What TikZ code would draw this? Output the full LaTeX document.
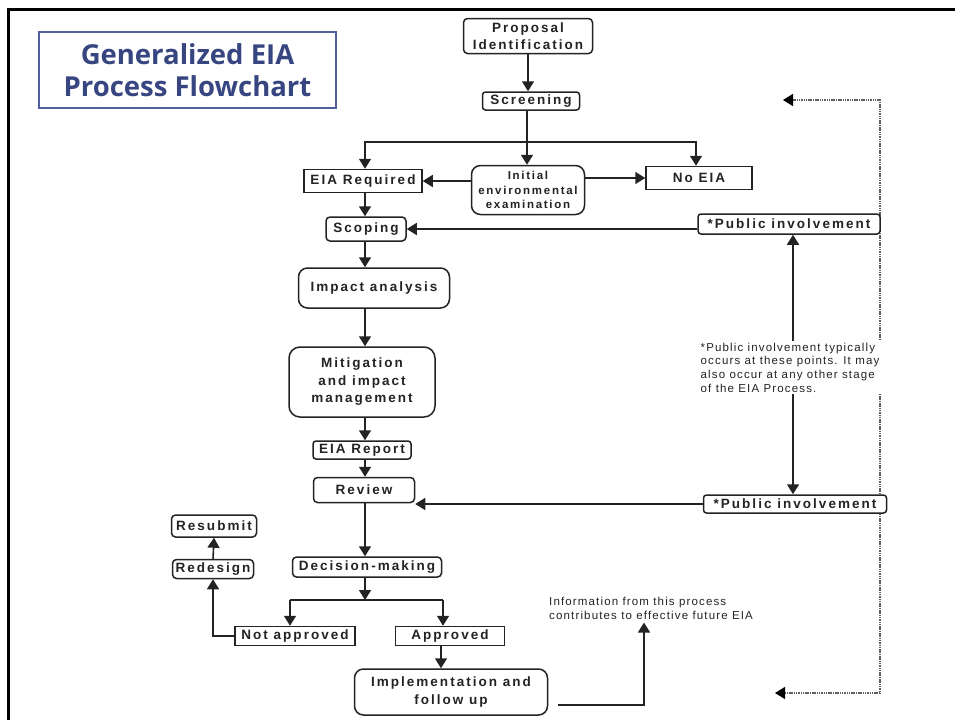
\documentclass[tikz,border=0pt]{standalone}
\usepackage{fontspec}
\setmainfont{Liberation Sans}
\newfontfamily\bxfont[LetterSpace=15]{Liberation Sans}
\newfontfamily\ntfont[LetterSpace=10]{Liberation Sans}
\newfontfamily\ttlfont{Open Sans}
\usetikzlibrary{arrows.meta}
\definecolor{ttlblue}{RGB}{55,70,128}
\definecolor{ttlframe}{RGB}{80,96,156}
\definecolor{ink}{RGB}{35,35,35}
\definecolor{dotgray}{RGB}{95,95,95}
\begin{document}
\begin{tikzpicture}[x=1pt,y=-1pt,
 box/.style={draw=ink, line width=1.5pt, fill=white, inner sep=0pt, align=center, text=ink, font=\bxfont\bfseries\fontsize{13.5}{17.5}\selectfont},
 rbox/.style={box, rounded corners=4pt},
 rrbox/.style={box, rounded corners=9pt},
 arr/.style={draw=ink, line width=1.6pt, -{Triangle[width=12pt,length=10pt]}},
 ln/.style={draw=ink, line width=1.6pt},
 dotln/.style={draw=dotgray, line width=1.6pt, dash pattern=on 1.5pt off 0.8pt},
 tiparr/.style={draw=black, fill=black, line width=1.2pt, -{Triangle[width=12pt,length=10pt]}},
 smalltext/.style={inner sep=0pt, align=left, text=ink, font=\ntfont\fontsize{11.5}{13.7}\selectfont}]
\useasboundingbox (0,0) rectangle (955,720);
% frame
\draw[line width=3pt, black] (8.5,720) -- (8.5,9.5) -- (955,9.5);
% dotted feedback path (drawn first, boxes cover it)
\coordinate (dt) at (880,100);
\coordinate (db) at (880,693);
\coordinate (dtm) at (792,100);
\coordinate (dbm) at (784,693);
\coordinate (dtl) at (783,100);
\coordinate (dbl) at (775,693);
\draw[dotln] (dtm) -- (dt) -- (db) -- (dbm);
\draw[tiparr] (dtm) -- (dtl);
\draw[tiparr] (dbm) -- (dbl);
% title
\node[draw=ttlframe, line width=1.3pt, minimum width=297pt, minimum height=76pt, inner sep=0pt, align=center, text=ttlblue, font=\ttlfont\bfseries\fontsize{27.5}{32}\selectfont] (title) at (187.5,70) {Generalized EIA\\Process Flowchart};
% nodes
\node[rbox, minimum width=129pt, minimum height=35pt] (prop) at (528,36) {Proposal\\Identification};
\node[rbox, rounded corners=3pt, minimum width=97pt, minimum height=18pt] (scr) at (531,101) {Screening};
\node[box, minimum width=118pt, minimum height=23pt] (eia) at (363,181) {EIA Required};
\node[rrbox, minimum width=113pt, minimum height=49pt, font=\bxfont\bfseries\fontsize{11.5}{14.5}\selectfont] (iee) at (528,190) {Initial\\environmental\\examination};
\node[box, minimum width=106pt, minimum height=23pt] (noeia) at (699,178) {No EIA};
\node[rbox, minimum width=80pt, minimum height=24pt] (scop) at (366,229) {Scoping};
\node[rbox, rounded corners=3pt, minimum width=182pt, minimum height=20pt] (pi1) at (789,224) {*Public involvement};
\node[rrbox, minimum width=151pt, minimum height=40pt] (imp) at (374,288) {Impact analysis};
\node[rrbox, rounded corners=11pt, minimum width=146pt, minimum height=70pt] (mit) at (362,382) {Mitigation\\and impact\\management};
\node[rbox, rounded corners=3pt, minimum width=98pt, minimum height=18pt] (rep) at (362,450) {EIA Report};
\node[rbox, minimum width=101pt, minimum height=25pt] (rev) at (364,490) {Review};
\node[rbox, rounded corners=3pt, minimum width=183pt, minimum height=18pt] (pi2) at (795,504) {*Public involvement};
\node[rbox, minimum width=149pt, minimum height=20pt] (dec) at (367,567) {Decision-making};
\node[box, minimum width=120pt, minimum height=19pt] (nap) at (295,636) {Not approved};
\node[box, minimum width=109pt, minimum height=19pt] (app) at (450,636) {Approved};
\node[rbox, minimum width=81pt, minimum height=19pt] (red) at (213,569) {Redesign};
\node[rbox, minimum width=85pt, minimum height=22pt] (res) at (214,526) {Resubmit};
\node[rrbox, minimum width=193pt, minimum height=46pt] (impl) at (451,692) {Implementation and\\follow up};
\node[smalltext, anchor=north west, fill=white, inner sep=1.5pt] (note) at (699,341) {*Public involvement typically\\occurs at these points. It may\\also occur at any other stage\\of the EIA Process.};
\node[smalltext, anchor=north west] (info) at (549,597) {Information from this process\\contributes to effective future EIA};
% helper coordinates
\coordinate (colx) at (365,0);
\coordinate (split) at (527,142);
\coordinate (split2) at (365,600);
\coordinate (l2) at (290,600);
\coordinate (r2) at (443,600);
\coordinate (ax) at (441,0);
\coordinate (px) at (793,0);
\coordinate (nx) at (696,0);
\coordinate (is) at (558,705);
\coordinate (ix) at (644,0);
% connectors
\draw[arr] (prop.south) -- (prop.south |- scr.north);
\draw[ln] (split |- scr.south) -- (split);
\draw[arr] (split) -| (eia.north -| colx);
\draw[arr] (split) -- (split |- iee.north);
\draw[arr] (split) -| (noeia.north -| nx);
\draw[arr] (iee.west |- eia.east) -- (eia.east);
\draw[arr] (iee.east |- noeia.west) -- (noeia.west);
\draw[arr] (eia.south -| colx) -- (scop.north -| colx);
\draw[arr] (scop.east -| pi1.west) -- (scop.east);
\draw[arr] (scop.south -| colx) -- (imp.north -| colx);
\draw[arr] (imp.south -| colx) -- (mit.north -| colx);
\draw[arr] (mit.south -| colx) -- (rep.north -| colx);
\draw[arr] (rep.south -| colx) -- (rev.north -| colx);
\draw[arr] (pi2.west) -- (pi2.west -| rev.east);
\draw[arr] (note.north -| px) -- (pi1.south -| px);
\draw[arr] (note.south -| px) -- (pi2.north -| px);
\draw[arr] (rev.south -| colx) -- (dec.north -| colx);
\draw[arr] (dec.south -| colx) -- (split2);
\draw[ln] (l2) -- (r2);
\draw[arr] (l2) -- (l2 |- nap.north);
\draw[arr] (r2) -- (r2 |- app.north);
\draw[arr] (nap.west) -| (red.south);
\draw[arr] (red.north) -- (res.south);
\draw[arr] (app.south -| ax) -- (impl.north -| ax);
\draw[arr] (is) -| ([yshift=-3pt]info.south -| ix);
\end{tikzpicture}
\end{document}
